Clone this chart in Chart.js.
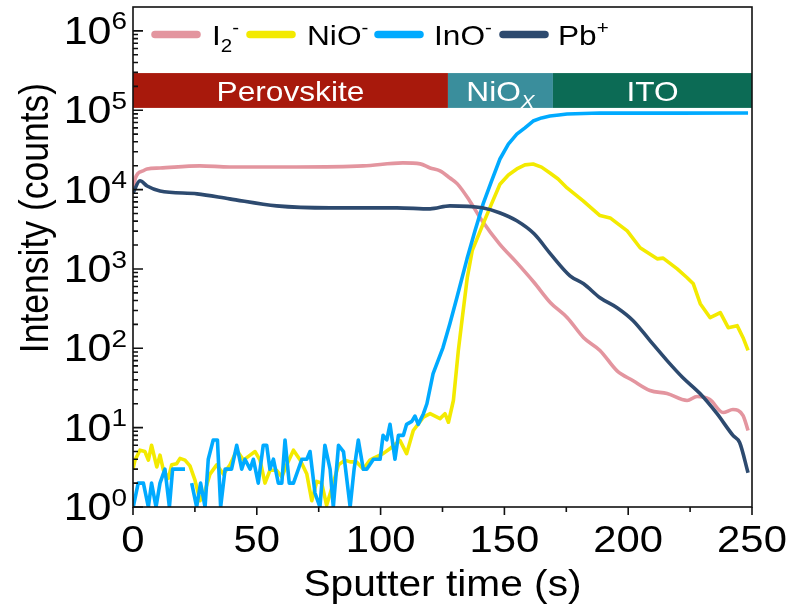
<!DOCTYPE html>
<html>
<head>
<meta charset="utf-8">
<script src="https://cdn.jsdelivr.net/npm/chart.js@4"></script>
<style>
  html, body { margin: 0; background: #fff; }
  #wrap { width: 792px; height: 615px; }
</style>
</head>
<body>
<div id="wrap"><canvas id="chart" width="792" height="615"></canvas></div>
<script>
// I2- signal
const i2Time = [0, 1, 2, 4, 5.7, 10.9, 27, 39, 66, 93, 109, 116, 120, 124, 128, 131, 136, 141, 148, 155, 162, 168.6, 175.4, 182, 188.6, 195.5, 202, 208.8, 215.7, 223.8, 227.8, 233, 238.3, 242.3, 246.4, 248.4];
const i2Vals = [10000, 14000, 16000, 17200, 18200, 18700, 19900, 19300, 19300, 19900, 21700, 21100, 18700, 17200, 14000, 11800, 7200, 4040, 2070, 1200, 675, 376, 243, 136, 94, 52, 39, 29.4, 26.9, 22, 24.7, 22.6, 15.5, 16.9, 14.2, 9.2];

// NiO- signal
const nioTime = [0, 0.8, 2.8, 4.8, 6.2, 7.5, 9.6, 10.9, 12.3, 14.3, 15.6, 17.6, 19, 21, 23, 25, 27.1, 29.1, 31.1, 33.8, 36.5, 39.2, 41.9, 44.6, 47.3, 49.3, 51.3, 53.3, 55.3, 58, 60.1, 62.1, 64.8, 67.5, 70.2, 72.2, 74.2, 76.2, 78.2, 80.9, 83, 85.6, 87.7, 90.3, 93, 95.7,
  97, 101, 104, 107.8, 110.5, 113.2, 117.3, 120, 124, 126, 127.4, 129.4, 131.4, 133, 135, 137, 141.4, 144.8, 148.2, 151.6, 155, 158.3, 161.6, 165, 168.4, 171.7, 175.3, 181.8, 188.6, 192.7, 199.6, 204.8, 211.7, 214.1, 219.8, 223.8, 226.3, 229.1, 233.1, 237.2, 240.4, 244, 246.4, 248.4];
const nioVals = [3.0, 3.9, 5.2, 5.0, 3.9, 6.0, 3.2, 4.5, 2.9, 2.3, 3.4, 3.5, 4.1, 3.9, 3.3, 2.2, 1.2, 1.6, 2.6, 3.4, 2.6, 3.4, 5.2, 3.9, 4.5, 5.0, 3.9, 2.0, 2.9, 2.9, 2.4, 3.4, 5.2, 3.9, 2.6, 1.2, 2.1, 2.0, 1.05, 2.0, 3.4, 3.9, 3.7, 3.7, 3.0, 3.9,
  4.1, 4.7, 5.5, 6.9, 4.7, 9.2, 13.6, 15, 13, 15, 11.7, 22, 94, 243, 775, 1700, 3700, 6600, 11700, 15300, 18200, 20500, 21000, 19200, 16200, 13600, 10500, 7200, 4700, 4400, 3020, 1850, 1340, 1370, 1000, 775, 650, 365, 243, 282, 182, 193, 136, 94];

// InO- signal (null = zero counts, not drawn on log axis)
const inoTime = [0.1, 2.1, 4.2, 6.2, 7.5, 9.3, 10.9, 12.9, 14.7, 16, 21, 22.4, 23.7, 25.7, 27.3, 29.1, 30.4, 32.4, 34.1, 35.4, 37.2, 39.8, 41.9, 43.9, 45.2, 47.3, 48.6, 50.6, 52.6, 54, 55.3, 56.7, 58.7, 60.1, 61.4, 63.1, 64.8, 68.2, 70.2, 71.5, 73.5, 75.5, 77.5, 79.6, 80.9, 83, 85, 87.7, 89.3, 91, 93, 94.4, 97.1,
  99.8, 101, 102.5, 103.8, 105.8, 107.2, 109.2, 110.5, 112.6, 113.9, 115.2, 117.3, 118.7, 121.2, 125.2, 128, 130.8, 134.9, 138.1, 141.4, 144.8, 148.2, 151.6, 155, 158.3, 161.6, 165, 168.4, 172, 175.3, 188.6, 220, 248.4];
const inoVals = [1, 2, 2, 1, 2, 1, 2, 3, 1, 3, 3, null, 2, 1, 2, 1, 4, 7, 7, 1, 3, 3, 6, 3, 4, 3, 4, 2, 6, 6, 3, 4, 2, 2, 7, 2, 2, 4, 4, 5, 1.5, 1, 6, 3, 1, 6, 5, 1, 3, 7, 3, 3, 4,
  4, 8, 7, 11, 4, 8, 8, 11, 12, 14, 11, 15, 20, 48, 102, 205, 434, 1340, 3000, 6600, 12800, 24300, 37500, 50000, 60000, 73100, 80000, 84500, 87000, 89600, 92300, 92000, 92300];

// Pb+ signal
const pbTime = [0, 2.8, 5.7, 10.9, 25.9, 39, 58, 79.6, 106.6, 120, 128, 141, 148, 155, 162, 168.6, 176.5, 182, 188.6, 195.5, 202, 208.8, 215.7, 222, 229, 235.8, 242.3, 245, 248.4];
const pbVals = [9000, 12900, 11100, 9600, 8830, 7640, 6240, 5890, 5890, 5720, 6240, 5890, 5100, 4040, 2770, 1550, 820, 650, 434, 325, 223, 125, 70, 42.9, 26.9, 15.1, 8.0, 6.5, 2.7];

// layer bands (time ranges)
const layerNames = ["Perovskite", "NiO", "ITO"];
const layerStart = [0, 127.2, 169.6];
const layerEnd = [127.2, 169.6, 250];
const layerColors = ["#a8190c", "#3a8e9c", "#0c6b55"];
const bandLow = 1.07e5, bandHigh = 2.94e5;

const xTicks = [0, 50, 100, 150, 200, 250];
const yExponents = [0, 1, 2, 3, 4, 5, 6];

const SX = 1.13;
const FONT = '"Liberation Sans", Arial, sans-serif';

function mk(label, t, v, color, smooth) {
  return {
    label: label,
    data: t.map((x, i) => ({ x: x, y: v[i] })),
    borderColor: color,
    backgroundColor: color,
    borderWidth: 3.6,
    pointRadius: 0,
    tension: smooth ? 0.4 : 0,
    cubicInterpolationMode: smooth ? "monotone" : "default",
    spanGaps: false,
    borderJoinStyle: "round"
  };
}

// rich text: parts with optional sub/sup, y = baseline
function rich(ctx, parts, x, y, size, align, color) {
  ctx.save();
  ctx.translate(x, y);
  ctx.scale(SX, 1);
  ctx.fillStyle = color || "#000";
  ctx.textAlign = "left";
  ctx.textBaseline = "alphabetic";
  let w = 0;
  parts.forEach(p => {
    ctx.font = (p.sub || p.sup ? size * 0.65 : size) + "px " + FONT;
    w += ctx.measureText(p.t).width;
  });
  let cx = align === "center" ? -w / 2 : align === "right" ? -w : 0;
  parts.forEach(p => {
    const sz = p.sub || p.sup ? size * 0.65 : size;
    ctx.font = (p.it ? "italic " : "") + sz + "px " + FONT;
    const dy = p.sub ? size * 0.24 : p.sup ? -size * 0.38 : 0;
    ctx.fillText(p.t, cx, dy);
    cx += ctx.measureText(p.t).width;
  });
  ctx.restore();
}

const deco = {
  id: "deco",
  beforeDatasetsDraw(chart) {
    const ctx = chart.ctx, xs = chart.scales.x, ys = chart.scales.y;
    const top = ys.getPixelForValue(bandHigh), bot = ys.getPixelForValue(bandLow);
    ctx.save();
    for (let i = 0; i < layerNames.length; i++) {
      const l = xs.getPixelForValue(layerStart[i]), r = xs.getPixelForValue(layerEnd[i]);
      ctx.fillStyle = layerColors[i];
      ctx.fillRect(l, top, r - l, bot - top);
      const parts = i === 1 ? [{ t: "NiO" }, { t: "X", sub: true, it: true }] : [{ t: layerNames[i] }];
      rich(ctx, parts, (l + r) / 2, bot - 7, 28, "center", "#fff");
    }
    ctx.restore();
  },
  afterDraw(chart) {
    const ctx = chart.ctx, xs = chart.scales.x, ys = chart.scales.y, a = chart.chartArea;
    ctx.save();
    ctx.strokeStyle = "#111";
    ctx.lineWidth = 1.6;
    ctx.strokeRect(a.left, a.top, a.right - a.left, a.bottom - a.top);
    // x ticks (outward)
    ctx.beginPath();
    for (let t = 0; t <= 250; t += 25) {
      const px = xs.getPixelForValue(t);
      ctx.moveTo(px, a.bottom);
      ctx.lineTo(px, a.bottom + (t % 50 === 0 ? 8 : 5));
    }
    // y ticks (inward)
    yExponents.forEach(k => {
      const py = ys.getPixelForValue(Math.pow(10, k));
      ctx.moveTo(a.left, py);
      ctx.lineTo(a.left + 10, py);
      if (k < 6) {
        for (let m = 2; m <= 9; m++) {
          const pm = ys.getPixelForValue(m * Math.pow(10, k));
          ctx.moveTo(a.left, pm);
          ctx.lineTo(a.left + 5, pm);
        }
      }
    });
    ctx.stroke();
    // tick labels
    xTicks.forEach(t => rich(ctx, [{ t: String(t) }], xs.getPixelForValue(t), 552, 37, "center"));
    yExponents.forEach(k => {
      const py = ys.getPixelForValue(Math.pow(10, k));
      rich(ctx, [{ t: "10" }, { t: String(k), sup: true }], 127, py + 13, 38, "right");
    });
    // axis titles
    rich(ctx, [{ t: "Sputter time (s)" }], (a.left + a.right) / 2, 596, 36, "center");
    ctx.save();
    ctx.translate(48, 218);
    ctx.rotate(-Math.PI / 2);
    ctx.scale(1, SX);
    ctx.font = "35.5px " + FONT;
    ctx.fillStyle = "#000";
    ctx.textAlign = "center";
    ctx.textBaseline = "alphabetic";
    ctx.fillText("Intensity (counts)", 0, 0);
    ctx.restore();
    // legend
    const leg = [
      { c: "#e3959f", x: 155, tx: 212, parts: [{ t: "I" }, { t: "2", sub: true }, { t: "-", sup: true }] },
      { c: "#f3ea00", x: 250, tx: 307, parts: [{ t: "NiO" }, { t: "-", sup: true }] },
      { c: "#00aaff", x: 378, tx: 434, parts: [{ t: "InO" }, { t: "-", sup: true }] },
      { c: "#2d4a6f", x: 503, tx: 558, parts: [{ t: "Pb" }, { t: "+", sup: true }] }
    ];
    ctx.lineCap = "round";
    ctx.lineWidth = 7.5;
    leg.forEach(g => {
      ctx.strokeStyle = g.c;
      ctx.beginPath();
      ctx.moveTo(g.x, 34.5);
      ctx.lineTo(g.x + 42, 34.5);
      ctx.stroke();
      rich(ctx, g.parts, g.tx, 45, 28, "left");
    });
    ctx.restore();
  }
};

new Chart(document.getElementById("chart"), {
  type: "line",
  data: {
    datasets: [
      mk("Pb+", pbTime, pbVals, "#2d4a6f", true),
      mk("InO-", inoTime, inoVals, "#00aaff", false),
      mk("NiO-", nioTime, nioVals, "#f3ea00", false),
      mk("I2-", i2Time, i2Vals, "#e3959f", true)
    ]
  },
  options: {
    responsive: false,
    animation: false,
    layout: { padding: { left: 0, top: 7, right: 40, bottom: 0 } },
    plugins: { legend: { display: false }, tooltip: { enabled: false } },
    scales: {
      x: {
        type: "linear", min: 0, max: 250,
        ticks: { display: false }, grid: { display: false }, border: { display: false },
        afterFit(s) { s.height = 108; }
      },
      y: {
        type: "logarithmic", min: 1, max: 2e6,
        ticks: { display: false }, grid: { display: false }, border: { display: false },
        afterFit(s) { s.width = 133; }
      }
    }
  },
  plugins: [deco]
});
</script>
</body>
</html>
